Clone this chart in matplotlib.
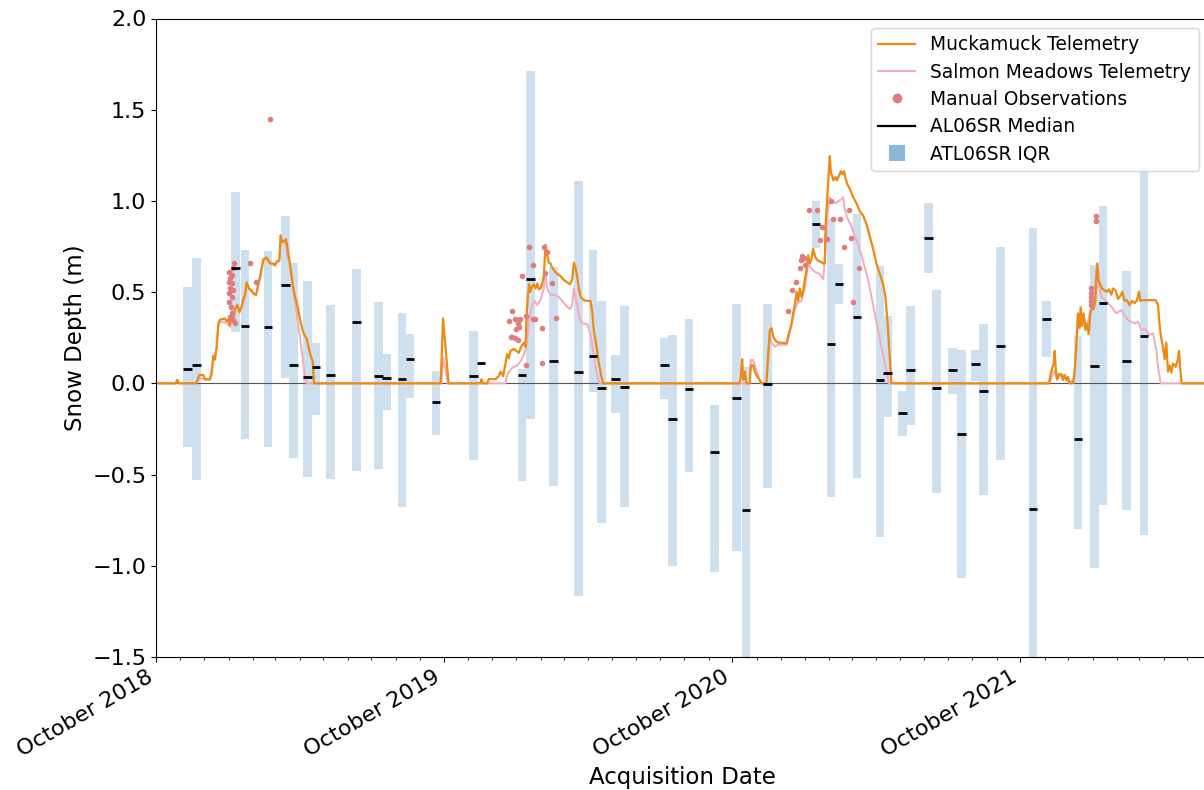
import numpy as np
import matplotlib
matplotlib.use("Agg")
import matplotlib.pyplot as plt
import matplotlib.dates as mdates
from matplotlib.lines import Line2D
from datetime import datetime, timedelta

# ---------------- data ----------------
SEASON_STARTS = ["2018-10-01", "2019-10-01", "2020-10-01", "2021-10-01"]
X_START, X_END = "2018-10-01", "2022-05-27"

# Muckamuck telemetry (days since season start, depth m)
MUCK_18_DAYS = [0, 25, 27, 29, 51, 55, 60, 62, 68.5, 70.6, 72.7, 74.8, 76.9, 79, 81.2, 87.5, 89.6, 91.7, 93.8,
                96, 98, 100, 103, 105.7, 108.6, 110.7, 112.9, 115, 118, 121.3, 124.3, 126.8, 129.8, 132.7, 136,
                140.3, 144.6, 148.8, 150.9, 153, 156.4, 158, 160.2, 162.3, 164.9, 166.5, 170, 173.3, 176.3,
                179.2, 182.6, 186, 187.7, 191, 194.4, 196.6, 198.7, 200.4]
MUCK_18_DEPTH = [0, 0, 0.02, 0, 0, 0.046, 0.046, 0.023, 0.023, 0.052, 0.15, 0.13, 0.2, 0.326, 0.35, 0.355, 0.34,
                 0.35, 0.32, 0.383, 0.34, 0.406, 0.43, 0.39, 0.42, 0.463, 0.486, 0.554, 0.52, 0.509, 0.49, 0.486,
                 0.543, 0.6, 0.68, 0.69, 0.657, 0.657, 0.646, 0.668, 0.675, 0.81, 0.775, 0.78, 0.79, 0.745, 0.657,
                 0.543, 0.474, 0.43, 0.35, 0.29, 0.269, 0.246, 0.178, 0.144, 0.121, 0]
MUCK_19_DAYS = [-4, -1, 6, 46, 47.8, 49.9, 55, 57, 65.5, 69.7, 71.9, 75.2, 78.2, 80.3, 82.4, 84.5, 88.8, 92.1,
                95.1, 98, 101.4, 103.6, 104.8, 106.5, 108.2, 110, 112, 114.1, 116.2, 118.4, 120.5, 122.6, 124.7,
                126.8, 128.9, 131, 133.2, 135.3, 137.4, 140.3, 143.7, 148, 152.2, 156.4, 159.8, 162.7, 164.9,
                167, 169, 171.2, 173.3, 177.5, 181.8, 186, 188.1, 190.2, 193.6, 196.6, 199.5, 202]
MUCK_19_DEPTH = [0, 0.356, 0, 0, 0.023, 0, 0, 0.023, 0.023, 0.04, 0.064, 0.04, 0.11, 0.16, 0.137, 0.178, 0.189,
                 0.178, 0.167, 0.2, 0.223, 0.2, 0.36, 0.474, 0.543, 0.502, 0.532, 0.543, 0.52, 0.547, 0.515, 0.52,
                 0.547, 0.588, 0.759, 0.702, 0.661, 0.657, 0.634, 0.616, 0.6, 0.588, 0.566, 0.554, 0.543, 0.566,
                 0.661, 0.634, 0.588, 0.52, 0.474, 0.456, 0.452, 0.452, 0.395, 0.29, 0.2, 0.11, 0.041, 0]
MUCK_20_DAYS = [9, 10.6, 12.3, 13.5, 15.6, 17.8, 22, 23.2, 26.2, 28.3, 31.7, 34.7, 36.8, 43.1, 45.2, 47.3, 49.5,
                51.6, 54.5, 57.9, 62.1, 68.5, 70.6, 72.7, 74.8, 76.9, 79, 81.2, 83.3, 85.4, 87.5, 89.6, 91.7,
                93.8, 96, 98, 100.2, 102.3, 104.4, 106.5, 110.7, 115, 117, 118, 119.6, 121.3, 123.4, 124.7, 126.4,
                128, 130.6, 132.7, 134.8, 137.4, 139.5, 141.6, 143.3, 145.8, 148.8, 153, 157.2, 161.5, 165.7,
                169.9, 174.2, 178.4, 182.6, 186.8, 191, 194, 196.6, 198.2, 199.9, 201.6]
MUCK_20_DEPTH = [0, 0.041, 0.132, 0.018, 0.064, 0, 0, 0.098, 0.098, 0.064, 0.036, 0.018, 0, 0, 0.155, 0.292,
                 0.303, 0.258, 0.235, 0.223, 0.223, 0.219, 0.258, 0.292, 0.326, 0.383, 0.429, 0.502, 0.452, 0.52,
                 0.474, 0.509, 0.566, 0.622, 0.702, 0.657, 0.68, 0.737, 0.702, 0.68, 0.668, 0.657, 0.657, 0.862,
                 0.976, 1.1, 1.245, 1.158, 1.135, 1.113, 1.131, 1.113, 1.135, 1.163, 1.147, 1.163, 1.124, 1.09,
                 1.067, 1.02, 0.988, 0.942, 0.92, 0.873, 0.805, 0.737, 0.657, 0.6, 0.543, 0.474, 0.337, 0.223,
                 0.11, 0]
MUCK_21_DAYS = [36.4, 38, 40.6, 42.3, 43.5, 44.8, 46.5, 49, 52, 54.1, 56.2, 58.3, 60.4, 62.6, 66.8, 68.9, 71,
                73.1, 75.2, 76.5, 78.2, 80.3, 82.4, 84.5, 86.7, 88.8, 91.3, 93, 95.1, 96.4, 97.6, 99.3, 101.4,
                103.6, 107, 109.9, 112.4, 115.4, 117.5, 120.9, 123.9, 126.8, 129.3, 132.3, 135.3, 138.6, 141.6,
                145, 147.9, 150.5, 152.2, 155.6, 159.8, 164, 168.2, 171.6, 174.6, 176.7, 178.8, 180.9, 183,
                185.1, 187.3, 189.4, 191.5, 193.6, 197, 199.9, 201.2, 202.9, 204.6]
MUCK_21_DEPTH = [0, 0.041, 0.087, 0.105, 0.178, 0.087, 0.023, 0.05, 0.05, 0.018, 0.046, 0.018, 0.036, 0, 0,
                 0.064, 0.212, 0.383, 0.303, 0.417, 0.315, 0.383, 0.292, 0.326, 0.269, 0.383, 0.429, 0.406, 0.452,
                 0.566, 0.657, 0.566, 0.543, 0.52, 0.509, 0.502, 0.515, 0.486, 0.52, 0.509, 0.463, 0.479, 0.502,
                 0.452, 0.456, 0.429, 0.452, 0.44, 0.456, 0.502, 0.452, 0.456, 0.456, 0.456, 0.456, 0.456, 0.429,
                 0.315, 0.246, 0.2, 0.132, 0.223, 0.064, 0.098, 0.059, 0.109, 0.091, 0.132, 0.178, 0.075, 0]

# Salmon Meadows telemetry
SALM_18_DAYS = [0, 25, 27, 29, 51, 55, 62, 68.5, 72.7, 76.9, 79, 81.2, 89.6, 93.8, 96, 100, 103, 108.6, 112.9,
                115, 121.3, 126.8, 132.7, 136, 140.3, 148.8, 153, 156.4, 158, 162.3, 164.9, 166.5, 170, 174.2,
                178.4, 182.6, 186, 189, 191]
SALM_18_DEPTH = [0, 0, 0.015, 0, 0, 0.03, 0.02, 0.02, 0.13, 0.19, 0.31, 0.34, 0.33, 0.31, 0.37, 0.4, 0.42, 0.41,
                 0.47, 0.54, 0.5, 0.48, 0.59, 0.67, 0.68, 0.65, 0.66, 0.67, 0.79, 0.77, 0.76, 0.7, 0.63, 0.51,
                 0.38, 0.25, 0.14, 0.03, 0]
SALM_19_DAYS = [-3, -1, 5, 78.2, 80.3, 84.5, 88.8, 93, 97.2, 101.4, 104.8, 107.8, 110, 112, 115, 118.4, 122.6,
                126.8, 128.9, 131, 134.4, 137.4, 141.6, 145.8, 150.1, 154.3, 159.8, 162.7, 164.9, 167, 169,
                173.3, 177.5, 181.8, 186, 189.4, 192.3, 195.3, 197.8]
SALM_19_DEPTH = [0, 0.145, 0, 0, 0.046, 0.075, 0.091, 0.098, 0.121, 0.155, 0.2, 0.337, 0.383, 0.429, 0.452,
                 0.429, 0.456, 0.52, 0.61, 0.52, 0.49, 0.484, 0.484, 0.474, 0.452, 0.43, 0.406, 0.429, 0.52, 0.474,
                 0.43, 0.337, 0.326, 0.326, 0.269, 0.178, 0.087, 0.03, 0]
SALM_20_DAYS = [22, 23.2, 26.2, 29.2, 32.5, 35.9, 43.1, 45.2, 47.3, 49.5, 53.7, 57.9, 68.5, 74.8, 79, 82.4, 87.5,
                91.7, 96, 100.2, 104.4, 110.7, 115, 118, 120.5, 123.4, 125.5, 127.6, 130.6, 134, 138.2, 140.3,
                142.4, 146.7, 150.9, 155.1, 159.4, 163.6, 167.8, 172, 176.3, 180.5, 184.7, 188.9, 193.2, 196.6,
                198.2]
SALM_20_DEPTH = [0, 0.128, 0.128, 0.087, 0.041, 0, 0, 0.132, 0.258, 0.223, 0.2, 0.212, 0.212, 0.315, 0.406,
                 0.44, 0.452, 0.52, 0.657, 0.629, 0.611, 0.6, 0.57, 0.725, 0.93, 1.02, 0.987, 0.998, 0.987, 0.998,
                 1.01, 1.02, 0.953, 0.896, 0.862, 0.805, 0.759, 0.702, 0.634, 0.566, 0.474, 0.383, 0.292, 0.2,
                 0.11, 0.041, 0]
SALM_21_DAYS = [36.4, 40.6, 43.5, 46.5, 52, 58.3, 62.6, 68.9, 71, 73.1, 76.5, 80.3, 84.5, 88.8, 93, 96.4, 99.3,
                102.7, 109, 115.4, 121.8, 128, 136.6, 145, 149.2, 153.5, 157.7, 164, 168.3, 172.5, 174.6, 178]
SALM_21_DEPTH = [0, 0.04, 0.07, 0.02, 0.05, 0.02, 0, 0.03, 0.19, 0.35, 0.38, 0.36, 0.31, 0.4, 0.44, 0.63, 0.55,
                 0.475, 0.45, 0.42, 0.384, 0.402, 0.347, 0.329, 0.338, 0.292, 0.3, 0.265, 0.274, 0.183, 0.091, 0]

# Manual observations (days since season start, depth m)
MAN_18_DAYS = [98.9, 97.2, 93, 96, 93.8, 93, 96, 93.8, 97.2, 93, 96, 93, 94.7, 96, 93.8, 98, 100, 119, 127, 144.6]
MAN_18_DEPTH = [0.658, 0.63, 0.612, 0.594, 0.576, 0.557, 0.548, 0.521, 0.511, 0.497, 0.475, 0.447, 0.42, 0.384,
                0.365, 0.347, 0.329, 0.658, 0.557, 1.449]
MAN_19_DAYS = [108, 127, 130.6, 112.5, 99, 128, 137, 86, 82, 90, 96.4, 93.5, 95.5, 91.3, 87, 90, 94.2, 85, 104,
               112.5, 115.4, 142, 125, 104, 125]
MAN_19_DEPTH = [0.749, 0.749, 0.72, 0.649, 0.588, 0.606, 0.552, 0.398, 0.342, 0.351, 0.351, 0.329, 0.31, 0.296,
                0.256, 0.25, 0.237, 0.252, 0.369, 0.351, 0.351, 0.356, 0.301, 0.1, 0.11]
MAN_20_DAYS = [96.8, 107.8, 110.7, 120.5, 88.4, 90.9, 87.5, 85.4, 91.7, 80.3, 76.1, 70.6, 124.7, 127.7, 136,
               147.5, 150.9, 141.7, 160.3, 153.2, 113]
MAN_20_DEPTH = [0.95, 0.95, 0.786, 0.789, 0.698, 0.685, 0.676, 0.63, 0.649, 0.557, 0.511, 0.398, 1.0, 0.899,
                0.899, 0.95, 0.798, 0.749, 0.63, 0.447, 0.855]
MAN_21_DAYS = [95.5, 95.5, 89.2, 89.2, 89.2, 89.2, 89.2]
MAN_21_DEPTH = [0.917, 0.891, 0.521, 0.497, 0.475, 0.452, 0.43]

# ATL06SR acquisitions: date, IQR (q1, q3) and median
ATL_DATES = ["2018-11-10", "2018-11-21", "2019-01-10", "2019-01-22", "2019-02-20", "2019-03-14", "2019-03-24",
             "2019-04-11", "2019-04-22", "2019-05-10", "2019-06-12", "2019-07-10", "2019-07-20", "2019-08-09",
             "2019-08-19", "2019-09-21", "2019-11-08", "2019-11-17", "2020-01-08", "2020-01-19", "2020-02-17",
             "2020-03-20", "2020-04-07", "2020-04-18", "2020-05-06", "2020-05-17", "2020-07-07", "2020-07-17",
             "2020-08-07", "2020-09-08", "2020-10-06", "2020-10-18", "2020-11-14", "2021-01-15", "2021-02-03",
             "2021-02-13", "2021-03-08", "2021-04-06", "2021-04-16", "2021-05-05", "2021-05-15", "2021-06-07",
             "2021-06-17", "2021-07-07", "2021-07-18", "2021-08-05", "2021-08-15", "2021-09-06", "2021-10-17",
             "2021-11-03", "2021-12-13", "2022-01-03", "2022-01-14", "2022-02-13", "2022-03-07"]
ATL_Q3 = [0.527, 0.686, 1.049, 0.732, 0.725, 0.919, 0.661, 0.559, 0.223, 0.429, 0.629, 0.445, 0.16, 0.388,
          0.269, 0.068, 0.287, 0.115, 0.08, 1.71, 0.638, 1.108, 0.732, 0.449, 0.155, 0.424, 0.246, 0.265,
          0.353, -0.119, 0.436, 0.091, 0.433, 1.0, 0.9, 0.657, 0.93, 0.645, 0.367, -0.043, 0.422, 0.987,
          0.513, 0.194, 0.183, 0.183, 0.326, 0.748, 0.85, 0.452, 0.258, 0.65, 0.972, 0.615, 1.18]
ATL_Q1 = [-0.347, -0.53, 0.28, -0.306, -0.351, 0.027, -0.408, -0.511, -0.176, -0.522, -0.483, -0.472, -0.146,
          -0.677, -0.078, -0.285, -0.422, 0.1, -0.534, -0.194, -0.563, -1.163, -0.05, -0.768, -0.16, -0.677,
          -0.084, -1.0, -0.488, -1.035, -0.921, -1.6, -0.575, 0.74, -0.625, 0.436, -0.517, -0.844, -0.187,
          -0.29, -0.228, 0.607, -0.602, -0.057, -1.065, 0.014, -0.613, -0.42, -1.6, 0.144, -0.796, -1.013,
          -0.666, -0.694, -0.832]
ATL_MEDIAN = [0.08, 0.098, 0.632, 0.315, 0.31, 0.538, 0.098, 0.036, 0.091, 0.046, 0.338, 0.041, 0.03, 0.025,
              0.132, -0.103, 0.041, 0.109, 0.046, 0.57, 0.121, 0.064, 0.15, -0.027, 0.025, -0.02, 0.103, -0.198,
              -0.032, -0.374, -0.078, -0.693, -0.005, 0.873, 0.217, 0.543, 0.365, 0.018, 0.059, -0.164, 0.075,
              0.798, -0.027, 0.073, -0.278, 0.107, -0.043, 0.205, -0.688, 0.353, -0.306, 0.094, 0.44, 0.125,
              0.258]

YTICKS = [-1.5, -1.0, -0.5, 0.0, 0.5, 1.0, 1.5, 2.0]

# ---------------- helpers ----------------
def season_series(starts, days_list, depth_list):
    xs, ys = [], []
    for s, d, v in zip(starts, days_list, depth_list):
        base = datetime.fromisoformat(s)
        xs += [mdates.date2num(base + timedelta(days=float(k))) for k in d]
        ys += list(v)
    return np.array(xs), np.array(ys)

x0 = mdates.date2num(datetime.fromisoformat(X_START))
x1 = mdates.date2num(datetime.fromisoformat(X_END))

mx, my = season_series(SEASON_STARTS, [MUCK_18_DAYS, MUCK_19_DAYS, MUCK_20_DAYS, MUCK_21_DAYS],
                       [MUCK_18_DEPTH, MUCK_19_DEPTH, MUCK_20_DEPTH, MUCK_21_DEPTH])
sx, sy = season_series(SEASON_STARTS, [SALM_18_DAYS, SALM_19_DAYS, SALM_20_DAYS, SALM_21_DAYS],
                       [SALM_18_DEPTH, SALM_19_DEPTH, SALM_20_DEPTH, SALM_21_DEPTH])
ox, oy = season_series(SEASON_STARTS, [MAN_18_DAYS, MAN_19_DAYS, MAN_20_DAYS, MAN_21_DAYS],
                       [MAN_18_DEPTH, MAN_19_DEPTH, MAN_20_DEPTH, MAN_21_DEPTH])
# telemetry records continue at zero to the ends of the plotted period
mx = np.concatenate([[x0], mx, [x1]]); my = np.concatenate([[0], my, [0]])
sx = np.concatenate([[x0], sx, [x1]]); sy = np.concatenate([[0], sy, [0]])

ad = np.array([mdates.date2num(datetime.fromisoformat(d)) for d in ATL_DATES])
q1 = np.array(ATL_Q1); q3 = np.array(ATL_Q3); med = np.array(ATL_MEDIAN)

# ---------------- figure ----------------
ORANGE = "#EC8A12"
PINK = "#F4AABB"
CORAL = "#E27C7C"
BARC = "#CEE0EE"

fig = plt.figure(figsize=(12.04, 7.90), dpi=100)
ax = fig.add_axes([156 / 1204, 133 / 790, 1052 / 1204, 638.5 / 790])

BAR_W = 11
ax.bar(ad, q3 - q1, bottom=q1, width=BAR_W, color=BARC, zorder=1, linewidth=0)
ax.axhline(0, color="#555555", lw=0.8, zorder=1.5)
ax.plot(sx, sy, color=PINK, lw=1.4, zorder=2)
ax.plot(mx, my, color=ORANGE, lw=1.6, zorder=2.2)
ax.plot(ox, oy, "o", color=CORAL, ms=4, mew=0, zorder=3)
ax.hlines(med, ad - BAR_W / 2, ad + BAR_W / 2, color="k", lw=2, zorder=4)

ax.set_xlim(x0, x1)
ax.set_ylim(-1.5, 2.0)
ax.set_yticks(YTICKS)
ax.yaxis.set_major_formatter(matplotlib.ticker.FuncFormatter(
    lambda v, p: f"{v:.1f}".replace("-", "\u2212")))
ax.xaxis_date()
ax.xaxis.set_major_locator(mdates.MonthLocator(bymonth=10))
ax.xaxis.set_major_formatter(mdates.DateFormatter("%B %Y"))
ax.xaxis.set_minor_locator(mdates.MonthLocator())
ax.tick_params(axis="both", which="major", labelsize=16)
for lab in ax.get_xticklabels():
    lab.set_rotation(30)
    lab.set_ha("right")

ax.set_ylabel("Snow Depth (m)", fontsize=16.5)
ax.set_xlabel("Acquisition Date", fontsize=16.5)

handles = [
    Line2D([], [], color=ORANGE, lw=1.6),
    Line2D([], [], color=PINK, lw=1.4),
    Line2D([], [], marker="o", ls="", color=CORAL, ms=7, mew=0),
    Line2D([], [], color="k", lw=1.6),
    Line2D([], [], marker="s", ls="", color="#8AB8DC", ms=11, mew=0),
]
labels = ["Muckamuck Telemetry", "Salmon Meadows Telemetry", "Manual Observations",
          "AL06SR Median", "ATL06SR IQR"]
ax.legend(handles, labels, loc="upper right", fontsize=13.4, labelspacing=0.45)

fig.savefig("out.png", dpi=100)
